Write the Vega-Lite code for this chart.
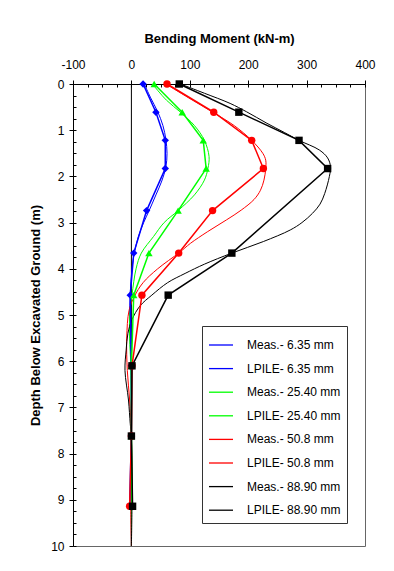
{
  "$schema": "https://vega.github.io/schema/vega-lite/v6.json",
  "width": 292,
  "height": 462,
  "autosize": {"type": "none"},
  "padding": {"left": 73, "top": 84, "right": 29, "bottom": 25},
  "background": "white",
  "config": {"view": {"stroke": "#666", "strokeWidth": 1}, "font": "Liberation Sans"},
  "data": {"values": [
    {"s":"Meas.- 6.35 mm","t":"Meas","d":0,"m":20},{"s":"Meas.- 6.35 mm","t":"Meas","d":0.61,"m":42},{"s":"Meas.- 6.35 mm","t":"Meas","d":1.22,"m":58},{"s":"Meas.- 6.35 mm","t":"Meas","d":1.83,"m":58},{"s":"Meas.- 6.35 mm","t":"Meas","d":2.74,"m":26},{"s":"Meas.- 6.35 mm","t":"Meas","d":3.66,"m":4},{"s":"Meas.- 6.35 mm","t":"Meas","d":4.57,"m":-2},{"s":"Meas.- 6.35 mm","t":"Meas","d":6.1,"m":0},{"s":"Meas.- 6.35 mm","t":"Meas","d":7.62,"m":0},{"s":"Meas.- 6.35 mm","t":"Meas","d":9.14,"m":-3},
    {"s":"Meas.- 25.40 mm","t":"Meas","d":0,"m":39},{"s":"Meas.- 25.40 mm","t":"Meas","d":0.61,"m":87},{"s":"Meas.- 25.40 mm","t":"Meas","d":1.22,"m":123},{"s":"Meas.- 25.40 mm","t":"Meas","d":1.83,"m":128},{"s":"Meas.- 25.40 mm","t":"Meas","d":2.74,"m":80},{"s":"Meas.- 25.40 mm","t":"Meas","d":3.66,"m":30},{"s":"Meas.- 25.40 mm","t":"Meas","d":4.57,"m":4},{"s":"Meas.- 25.40 mm","t":"Meas","d":6.1,"m":0},{"s":"Meas.- 25.40 mm","t":"Meas","d":7.62,"m":0},{"s":"Meas.- 25.40 mm","t":"Meas","d":9.14,"m":1},
    {"s":"Meas.- 50.8 mm","t":"Meas","d":0,"m":61},{"s":"Meas.- 50.8 mm","t":"Meas","d":0.61,"m":141},{"s":"Meas.- 50.8 mm","t":"Meas","d":1.22,"m":206},{"s":"Meas.- 50.8 mm","t":"Meas","d":1.83,"m":226},{"s":"Meas.- 50.8 mm","t":"Meas","d":2.74,"m":139},{"s":"Meas.- 50.8 mm","t":"Meas","d":3.66,"m":81},{"s":"Meas.- 50.8 mm","t":"Meas","d":4.57,"m":18},{"s":"Meas.- 50.8 mm","t":"Meas","d":6.1,"m":1},{"s":"Meas.- 50.8 mm","t":"Meas","d":7.62,"m":0},{"s":"Meas.- 50.8 mm","t":"Meas","d":9.14,"m":-3},
    {"s":"Meas.- 88.90 mm","t":"Meas","d":0,"m":82},{"s":"Meas.- 88.90 mm","t":"Meas","d":0.61,"m":184},{"s":"Meas.- 88.90 mm","t":"Meas","d":1.22,"m":287},{"s":"Meas.- 88.90 mm","t":"Meas","d":1.83,"m":336},{"s":"Meas.- 88.90 mm","t":"Meas","d":3.66,"m":172},{"s":"Meas.- 88.90 mm","t":"Meas","d":4.57,"m":63},{"s":"Meas.- 88.90 mm","t":"Meas","d":6.1,"m":1},{"s":"Meas.- 88.90 mm","t":"Meas","d":7.62,"m":0},{"s":"Meas.- 88.90 mm","t":"Meas","d":9.14,"m":2},
    {"s":"LPILE- 6.35 mm","t":"LPILE","d":0,"m":22},{"s":"LPILE- 6.35 mm","t":"LPILE","d":0.3,"m":33},{"s":"LPILE- 6.35 mm","t":"LPILE","d":0.6,"m":45},{"s":"LPILE- 6.35 mm","t":"LPILE","d":0.9,"m":54},{"s":"LPILE- 6.35 mm","t":"LPILE","d":1.2,"m":59},{"s":"LPILE- 6.35 mm","t":"LPILE","d":1.5,"m":61},{"s":"LPILE- 6.35 mm","t":"LPILE","d":1.8,"m":59},{"s":"LPILE- 6.35 mm","t":"LPILE","d":2.1,"m":52},{"s":"LPILE- 6.35 mm","t":"LPILE","d":2.4,"m":42},{"s":"LPILE- 6.35 mm","t":"LPILE","d":2.75,"m":30},{"s":"LPILE- 6.35 mm","t":"LPILE","d":3.0,"m":21},{"s":"LPILE- 6.35 mm","t":"LPILE","d":3.3,"m":12},{"s":"LPILE- 6.35 mm","t":"LPILE","d":3.66,"m":5},{"s":"LPILE- 6.35 mm","t":"LPILE","d":4.0,"m":1},{"s":"LPILE- 6.35 mm","t":"LPILE","d":4.57,"m":-2},{"s":"LPILE- 6.35 mm","t":"LPILE","d":5.0,"m":-3},{"s":"LPILE- 6.35 mm","t":"LPILE","d":5.5,"m":-2},{"s":"LPILE- 6.35 mm","t":"LPILE","d":6.1,"m":-1},{"s":"LPILE- 6.35 mm","t":"LPILE","d":7.0,"m":0},{"s":"LPILE- 6.35 mm","t":"LPILE","d":8.0,"m":0},{"s":"LPILE- 6.35 mm","t":"LPILE","d":9.14,"m":0},{"s":"LPILE- 6.35 mm","t":"LPILE","d":10,"m":0},
    {"s":"LPILE- 25.40 mm","t":"LPILE","d":0,"m":36},{"s":"LPILE- 25.40 mm","t":"LPILE","d":0.35,"m":60},{"s":"LPILE- 25.40 mm","t":"LPILE","d":0.61,"m":84},{"s":"LPILE- 25.40 mm","t":"LPILE","d":0.9,"m":108},{"s":"LPILE- 25.40 mm","t":"LPILE","d":1.22,"m":125},{"s":"LPILE- 25.40 mm","t":"LPILE","d":1.57,"m":133},{"s":"LPILE- 25.40 mm","t":"LPILE","d":1.83,"m":131},{"s":"LPILE- 25.40 mm","t":"LPILE","d":2.08,"m":125},{"s":"LPILE- 25.40 mm","t":"LPILE","d":2.4,"m":108},{"s":"LPILE- 25.40 mm","t":"LPILE","d":2.74,"m":80},{"s":"LPILE- 25.40 mm","t":"LPILE","d":3.0,"m":56},{"s":"LPILE- 25.40 mm","t":"LPILE","d":3.3,"m":38},{"s":"LPILE- 25.40 mm","t":"LPILE","d":3.66,"m":17},{"s":"LPILE- 25.40 mm","t":"LPILE","d":4.0,"m":8},{"s":"LPILE- 25.40 mm","t":"LPILE","d":4.57,"m":1},{"s":"LPILE- 25.40 mm","t":"LPILE","d":5.0,"m":-3},{"s":"LPILE- 25.40 mm","t":"LPILE","d":5.5,"m":-3},{"s":"LPILE- 25.40 mm","t":"LPILE","d":6.1,"m":-1},{"s":"LPILE- 25.40 mm","t":"LPILE","d":7.0,"m":0},{"s":"LPILE- 25.40 mm","t":"LPILE","d":8.0,"m":0},{"s":"LPILE- 25.40 mm","t":"LPILE","d":9.14,"m":0},{"s":"LPILE- 25.40 mm","t":"LPILE","d":10,"m":0},
    {"s":"LPILE- 50.8 mm","t":"LPILE","d":0,"m":59},{"s":"LPILE- 50.8 mm","t":"LPILE","d":0.3,"m":98},{"s":"LPILE- 50.8 mm","t":"LPILE","d":0.61,"m":139},{"s":"LPILE- 50.8 mm","t":"LPILE","d":0.9,"m":176},{"s":"LPILE- 50.8 mm","t":"LPILE","d":1.22,"m":206},{"s":"LPILE- 50.8 mm","t":"LPILE","d":1.5,"m":225},{"s":"LPILE- 50.8 mm","t":"LPILE","d":1.65,"m":230},{"s":"LPILE- 50.8 mm","t":"LPILE","d":1.83,"m":230},{"s":"LPILE- 50.8 mm","t":"LPILE","d":2.08,"m":227},{"s":"LPILE- 50.8 mm","t":"LPILE","d":2.3,"m":221},{"s":"LPILE- 50.8 mm","t":"LPILE","d":2.5,"m":210},{"s":"LPILE- 50.8 mm","t":"LPILE","d":2.73,"m":188},{"s":"LPILE- 50.8 mm","t":"LPILE","d":2.94,"m":163},{"s":"LPILE- 50.8 mm","t":"LPILE","d":3.2,"m":130},{"s":"LPILE- 50.8 mm","t":"LPILE","d":3.45,"m":101},{"s":"LPILE- 50.8 mm","t":"LPILE","d":3.65,"m":82},{"s":"LPILE- 50.8 mm","t":"LPILE","d":4.0,"m":45},{"s":"LPILE- 50.8 mm","t":"LPILE","d":4.3,"m":20},{"s":"LPILE- 50.8 mm","t":"LPILE","d":4.6,"m":5},{"s":"LPILE- 50.8 mm","t":"LPILE","d":4.9,"m":-4},{"s":"LPILE- 50.8 mm","t":"LPILE","d":5.5,"m":-8},{"s":"LPILE- 50.8 mm","t":"LPILE","d":6.2,"m":-7},{"s":"LPILE- 50.8 mm","t":"LPILE","d":6.84,"m":-3},{"s":"LPILE- 50.8 mm","t":"LPILE","d":7.62,"m":0},{"s":"LPILE- 50.8 mm","t":"LPILE","d":8.5,"m":0},{"s":"LPILE- 50.8 mm","t":"LPILE","d":9.14,"m":-1},{"s":"LPILE- 50.8 mm","t":"LPILE","d":10,"m":0},
    {"s":"LPILE- 88.90 mm","t":"LPILE","d":0,"m":84},{"s":"LPILE- 88.90 mm","t":"LPILE","d":0.2,"m":125},{"s":"LPILE- 88.90 mm","t":"LPILE","d":0.42,"m":169},{"s":"LPILE- 88.90 mm","t":"LPILE","d":0.6,"m":197},{"s":"LPILE- 88.90 mm","t":"LPILE","d":0.85,"m":232},{"s":"LPILE- 88.90 mm","t":"LPILE","d":1.05,"m":262},{"s":"LPILE- 88.90 mm","t":"LPILE","d":1.22,"m":287},{"s":"LPILE- 88.90 mm","t":"LPILE","d":1.43,"m":322},{"s":"LPILE- 88.90 mm","t":"LPILE","d":1.6,"m":336},{"s":"LPILE- 88.90 mm","t":"LPILE","d":1.79,"m":341},{"s":"LPILE- 88.90 mm","t":"LPILE","d":2.0,"m":339},{"s":"LPILE- 88.90 mm","t":"LPILE","d":2.37,"m":331},{"s":"LPILE- 88.90 mm","t":"LPILE","d":2.6,"m":323},{"s":"LPILE- 88.90 mm","t":"LPILE","d":2.8,"m":310},{"s":"LPILE- 88.90 mm","t":"LPILE","d":3.0,"m":292},{"s":"LPILE- 88.90 mm","t":"LPILE","d":3.16,"m":272},{"s":"LPILE- 88.90 mm","t":"LPILE","d":3.41,"m":226},{"s":"LPILE- 88.90 mm","t":"LPILE","d":3.66,"m":172},{"s":"LPILE- 88.90 mm","t":"LPILE","d":3.9,"m":125},{"s":"LPILE- 88.90 mm","t":"LPILE","d":4.1,"m":92},{"s":"LPILE- 88.90 mm","t":"LPILE","d":4.3,"m":62},{"s":"LPILE- 88.90 mm","t":"LPILE","d":4.57,"m":35},{"s":"LPILE- 88.90 mm","t":"LPILE","d":4.8,"m":15},{"s":"LPILE- 88.90 mm","t":"LPILE","d":5.1,"m":1},{"s":"LPILE- 88.90 mm","t":"LPILE","d":5.4,"m":-6},{"s":"LPILE- 88.90 mm","t":"LPILE","d":5.76,"m":-9},{"s":"LPILE- 88.90 mm","t":"LPILE","d":6.2,"m":-11},{"s":"LPILE- 88.90 mm","t":"LPILE","d":6.84,"m":-5},{"s":"LPILE- 88.90 mm","t":"LPILE","d":7.35,"m":-2},{"s":"LPILE- 88.90 mm","t":"LPILE","d":7.62,"m":0},{"s":"LPILE- 88.90 mm","t":"LPILE","d":8.5,"m":1},{"s":"LPILE- 88.90 mm","t":"LPILE","d":9.14,"m":1},{"s":"LPILE- 88.90 mm","t":"LPILE","d":10,"m":0}
  ]},
  "resolve": {"axis": {"x": "independent", "y": "independent"}},
  "layer": [
    {
      "data": {"values": [{"m": 0}]},
      "mark": {"type": "rule", "color": "black", "strokeWidth": 1},
      "encoding": {
        "x": {"field": "m", "type": "quantitative", "scale": {"domain": [-100, 400], "nice": false}, "axis": null}
      }
    },
    {
      "transform": [{"filter": "datum.t === 'LPILE'"}],
      "mark": {"type": "line", "interpolate": "catmull-rom", "strokeWidth": 1},
      "encoding": {
        "x": {"field": "m", "type": "quantitative", "scale": {"domain": [-100, 400], "nice": false},
          "axis": {"orient": "top", "values": [-100, 0, 100, 200, 300, 400], "labelExpr": "'' + datum.value", "tickSize": 4, "tickColor": "black", "domainColor": "black", "labelColor": "black", "labelFontSize": 12, "labelFont": "Liberation Sans", "labelPadding": 9, "title": "Bending Moment (kN-m)", "titleFont": "Liberation Sans", "titleFontSize": 13, "titleFontWeight": "bold", "titleColor": "black", "titlePadding": 13, "grid": false, "labelFlush": false, "labelOverlap": false}},
        "y": {"field": "d", "type": "quantitative", "scale": {"domain": [0, 10], "nice": false, "reverse": true},
          "axis": {"orient": "left", "values": [0, 1, 2, 3, 4, 5, 6, 7, 8, 9, 10], "tickSize": 4, "tickColor": "black", "domainColor": "black", "labelColor": "black", "labelFontSize": 12, "labelFont": "Liberation Sans", "labelPadding": 5, "title": "Depth Below Excavated Ground (m)", "titleFont": "Liberation Sans", "titleFontSize": 13, "titleFontWeight": "bold", "titleColor": "black", "titlePadding": 8, "grid": false, "labelFlush": false, "labelOverlap": false}},
        "color": {"field": "s", "type": "nominal",
          "scale": {"domain": ["Meas.- 6.35 mm", "LPILE- 6.35 mm", "Meas.- 25.40 mm", "LPILE- 25.40 mm", "Meas.- 50.8 mm", "LPILE- 50.8 mm", "Meas.- 88.90 mm", "LPILE- 88.90 mm"], "range": ["#0000ff", "#0000ff", "#00ff00", "#00ff00", "#ff0000", "#ff0000", "#000000", "#000000"]},
          "legend": {"orient": "none", "legendX": 129, "legendY": 242, "title": null, "strokeColor": "#333", "fillColor": "white", "padding": 6, "labelFont": "Liberation Sans", "labelFontSize": 12, "labelColor": "black", "symbolType": "stroke", "symbolSize": 576, "symbolStrokeWidth": 1.3, "rowPadding": 4.6, "labelOffset": 13}},
        "order": {"field": "d", "type": "quantitative"}
      }
    },
    {
      "transform": [{"filter": "datum.t === 'Meas'"}],
      "mark": {"type": "line", "strokeWidth": 1.5},
      "encoding": {
        "x": {"field": "m", "type": "quantitative", "axis": null},
        "y": {"field": "d", "type": "quantitative", "axis": null},
        "color": {"field": "s", "type": "nominal"},
        "order": {"field": "d", "type": "quantitative"}
      }
    },
    {
      "transform": [{"filter": "datum.t === 'Meas'"}],
      "mark": {"type": "point", "filled": true, "size": 55, "opacity": 1},
      "encoding": {
        "x": {"field": "m", "type": "quantitative",
          "axis": {"orient": "top", "values": [-100, -75, -50, -25, 0, 25, 50, 75, 100, 125, 150, 175, 200, 225, 250, 275, 300, 325, 350, 375, 400], "tickSize": -3, "tickColor": "black", "labels": false, "domain": false, "title": null, "grid": false}},
        "y": {"field": "d", "type": "quantitative",
          "axis": {"orient": "left", "values": [0, 0.25, 0.5, 0.75, 1, 1.25, 1.5, 1.75, 2, 2.25, 2.5, 2.75, 3, 3.25, 3.5, 3.75, 4, 4.25, 4.5, 4.75, 5, 5.25, 5.5, 5.75, 6, 6.25, 6.5, 6.75, 7, 7.25, 7.5, 7.75, 8, 8.25, 8.5, 8.75, 9, 9.25, 9.5, 9.75, 10], "tickSize": -3, "tickColor": "black", "labels": false, "domain": false, "title": null, "grid": false}},
        "color": {"field": "s", "type": "nominal"},
        "shape": {"field": "s", "type": "nominal", "scale": {"domain": ["Meas.- 6.35 mm", "Meas.- 25.40 mm", "Meas.- 50.8 mm", "Meas.- 88.90 mm"], "range": ["diamond", "triangle-up", "circle", "square"]}, "legend": null}
      }
    }
  ]
}
